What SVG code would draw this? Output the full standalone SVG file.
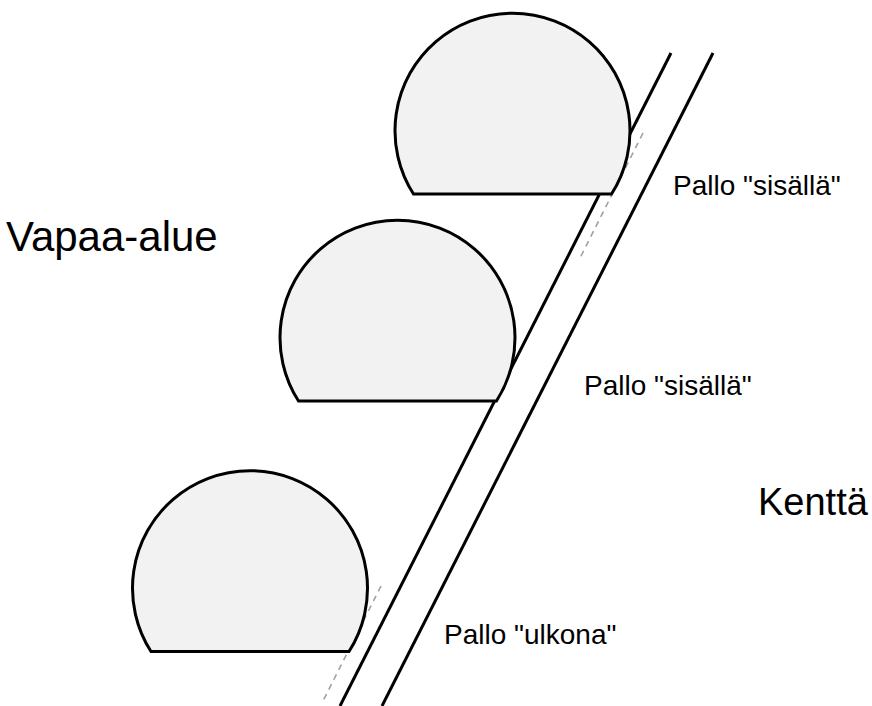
<svg xmlns="http://www.w3.org/2000/svg" width="872" height="706" viewBox="0 0 872 706">
<style>
.line{stroke:#000;stroke-width:3;fill:none;stroke-linecap:butt}
.ball{fill:#f2f2f2;stroke:#000;stroke-width:3;stroke-linejoin:miter}
.dash{stroke:#a0a0a0;stroke-width:1.6;stroke-dasharray:6 5;fill:none}
.lbl{font-family:"Liberation Sans",Arial,sans-serif;fill:#000}
.small{font-size:28px}
.big{font-size:42px}
.big2{font-size:38px}
</style>
<rect width="872" height="706" fill="#fff"/>
<g id="connectors">
<line class="line" x1="671" y1="53" x2="340" y2="706"/>
<line class="line" x1="713" y1="53" x2="382" y2="706"/>
<line class="dash" x1="643" y1="133" x2="579" y2="260"/>
<line class="dash" x1="381" y1="586" x2="322" y2="703"/>
</g>
<g id="ball1">
<path class="ball" d="M413.5,194 A117.5,117.5 0 1 1 611.5,194 Z"/>
</g>
<g id="ball2">
<path class="ball" d="M298.5,401 A117.5,117.5 0 1 1 496.5,401 Z"/>
</g>
<g id="ball3">
<path class="ball" d="M151,651.5 A117.5,117.5 0 1 1 349,651.5 Z"/>
</g>
<g id="labels">
<text class="lbl small" x="673" y="195">Pallo "sisällä"</text>
<text class="lbl big" x="6" y="251">Vapaa-alue</text>
<text class="lbl small" x="584" y="395">Pallo "sisällä"</text>
<text class="lbl big2" x="758" y="515">Kenttä</text>
<text class="lbl small" x="444" y="644">Pallo "ulkona"</text>
</g>
</svg>
